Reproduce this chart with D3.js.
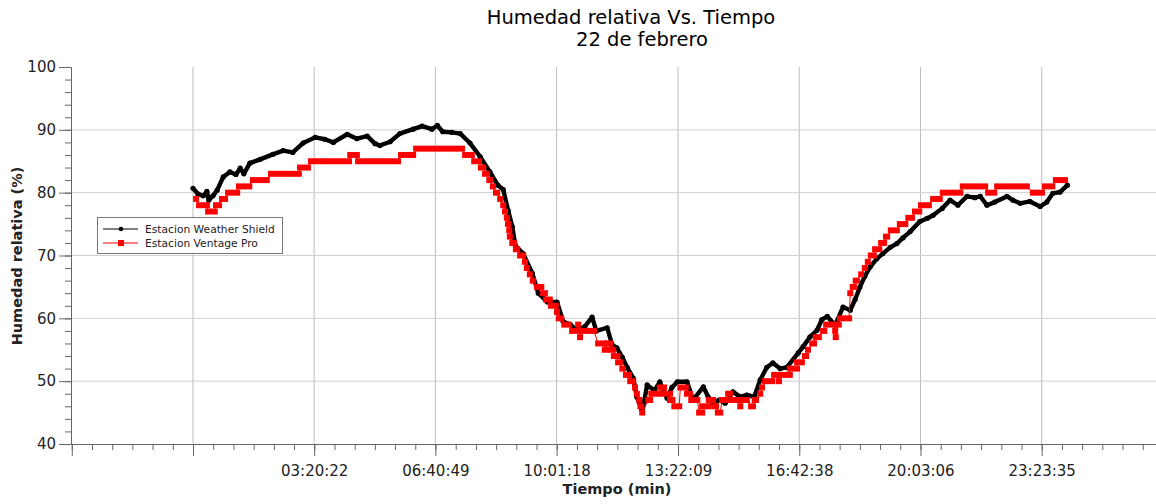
<meta charset="utf-8">
<title>Humedad relativa Vs. Tiempo</title>
<script src="https://cdn.jsdelivr.net/npm/d3@7"></script>
<style>
  body { margin: 0; background: #fff; }
  svg { display: block; font-family: "DejaVu Sans", sans-serif; }
</style>
<body>
<svg width="1156" height="504"></svg>
<script>

  // Estacion Weather Shield: minutes since 00:00 and humidity (%)
  const shieldMin = [0,8,17,23,26,33,40,50,61,71,78,84,94,111,132,149,165,182,202,218,232,255,271,288,301,309,326,342,364,379,395,404,413,428,442,458,475,491,504,513,521,528,533,546,561,571,586,602,612,624,635,648,660,667,685,693,701,710,718,728,734,743,751,763,772,784,792,801,817,827,844,852,860,870,880,893,905,916,928,938,949,959,971,982,1001,1009,1020,1032,1040,1049,1062,1075,1087,1095,1103,1111,1120,1131,1141,1153,1164,1174,1186,1202,1214,1224,1239,1252,1265,1280,1293,1302,1313,1326,1346,1356,1368,1384,1401,1412,1422,1434,1446]
  const shieldHum = [80.7,79.8,79.5,80.2,78.8,79.5,80.4,82.5,83.3,82.9,83.9,83.0,84.7,85.3,86.1,86.7,86.4,87.9,88.8,88.5,88.0,89.3,88.6,89.0,87.8,87.5,88.1,89.4,90.1,90.6,90.1,90.7,89.7,89.6,89.4,87.9,85.7,83.3,81.2,80.5,77.2,74.6,71.6,70.3,67.2,64.0,62.6,62.6,59.5,59.0,58.1,58.7,60.2,58.0,58.5,55.8,55.3,53.8,52.2,50.5,47.5,45.1,49.4,48.5,49.9,47.3,49.0,49.9,49.9,47.0,49.1,47.5,46.5,47.0,46.5,48.3,47.5,47.8,47.5,50.2,52.2,52.9,52.0,52.2,54.5,55.5,57.0,58.1,59.8,60.3,58.9,61.8,61.3,63.0,65.0,66.7,68.2,69.5,70.3,71.3,71.9,72.8,73.8,75.4,75.9,76.4,77.5,78.8,78.0,79.4,79.2,79.4,78.0,78.5,79.4,78.8,78.3,78.6,77.8,78.5,79.9,80.1,81.2]

  // Estacion Ventage Pro: runs of equal readings (start min, end min, humidity %)
  const vpStart = [5,10,25,38,48,58,76,99,129,177,195,260,273,344,369,450,465,476,483,490,496,501,508,513,516,519,521,523,524,528,534,541,549,552,557,562,569,579,584,592,602,605,614,627,637,640,643,670,681,685,691,696,703,710,716,723,731,734,738,740,743,753,758,772,781,789,796,806,817,824,837,842,853,862,868,875,885,888,905,908,923,929,938,941,946,961,969,972,987,999,1012,1017,1024,1030,1042,1047,1062,1063,1067,1070,1087,1091,1096,1105,1111,1116,1121,1128,1138,1146,1154,1169,1183,1194,1204,1224,1240,1273,1315,1330,1389,1409,1427]
  const vpEnd   = [5,23,36,43,53,73,93,122,175,190,258,271,339,364,445,461,473,480,486,491,496,503,508,513,516,519,521,523,524,531,536,546,549,552,557,562,576,582,590,600,602,609,622,633,637,640,663,680,683,690,695,702,706,711,721,728,731,734,738,741,743,756,772,779,789,793,804,815,822,834,842,852,860,865,872,882,888,901,905,916,926,931,938,941,958,968,969,987,999,1007,1014,1017,1027,1035,1044,1060,1062,1063,1068,1085,1087,1093,1098,1105,1111,1116,1126,1135,1143,1148,1164,1178,1189,1201,1217,1235,1269,1310,1325,1379,1404,1421,1442]
  const vpHum   = [79,78,77,78,79,80,81,82,83,84,85,86,85,86,87,86,85,84,83,82,81,80,79,78,77,76,75,74,73,72,71,70,69,68,67,66,65,64,63,62,61,60,59,58,59,57,58,56,55,56,55,54,53,52,51,50,49,48,47,46,45,47,48,49,48,47,46,49,48,47,45,46,47,46,45,47,48,47,46,47,46,47,48,49,50,51,50,51,52,53,54,55,56,57,58,59,58,57,59,60,64,65,66,67,68,69,70,71,72,73,74,75,76,77,78,79,80,81,80,81,80,81,82]

  const tickLabels = ["03:20:22", "06:40:49", "10:01:18", "13:22:09", "16:42:38", "20:03:06", "23:23:35"]
  const yTicks = [40, 50, 60, 70, 80, 90, 100]
  const seriesNames = ["Estacion Weather Shield", "Estacion Ventage Pro"]

  const toMin = s => { const [h, m, sec] = s.split(':').map(Number); return h * 60 + m + sec / 60 }

  const svg = d3.select('svg')

  const x = d3.scaleLinear().domain([-201.8, 1592.6]).range([71, 1156])
  const y = d3.scaleLinear().domain([40, 100]).range([444, 67])

  const labelMins = tickLabels.map(toMin)
  const step = labelMins[labelMins.length - 1] / labelMins.length
  const majorX = [-step, 0, ...labelMins]
  const minorX = d3.range(-6, 60).map(k => k * step / 6).filter(v => v >= x.domain()[0] - 0.5 && v <= x.domain()[1])

  // grid
  const grid = svg.append('g')
  grid.selectAll('line.v').data([0, ...labelMins]).join('line')
    .attr('x1', d => x(d)).attr('x2', d => x(d))
    .attr('y1', y(100)).attr('y2', y(40))
    .attr('stroke', '#bdbdbd').attr('stroke-width', 1)
  grid.selectAll('line.h').data(yTicks.filter(v => v > 40 && v < 100)).join('line')
    .attr('x1', x.range()[0]).attr('x2', x.range()[1])
    .attr('y1', d => y(d)).attr('y2', d => y(d))
    .attr('stroke', '#cfcfcf').attr('stroke-width', 1)

  // axes
  const styleAxis = g => {
    g.selectAll('path, line').attr('stroke', '#666')
    g.selectAll('text').attr('fill', '#222').attr('font-family', '"DejaVu Sans", sans-serif').attr('font-size', 15)
  }

  svg.append('g').attr('transform', 'translate(0,444)')
    .call(d3.axisBottom(x).tickValues(minorX).tickSize(6).tickFormat('').tickSizeOuter(0))
    .call(styleAxis)
  svg.append('g').attr('transform', 'translate(0,444)')
    .call(d3.axisBottom(x).tickValues(majorX).tickSize(12).tickPadding(9).tickSizeOuter(0)
      .tickFormat((d, i) => i < 2 ? '' : tickLabels[i - 2]))
    .call(styleAxis)

  svg.append('g').attr('transform', 'translate(71,0)')
    .call(d3.axisLeft(y).tickValues(d3.range(40, 101, 2)).tickSize(6).tickFormat('').tickSizeOuter(0))
    .call(styleAxis)
  svg.append('g').attr('transform', 'translate(71,0)')
    .call(d3.axisLeft(y).tickValues(yTicks).tickSize(12).tickPadding(3).tickSizeOuter(0))
    .call(styleAxis)

  // Weather Shield series
  const shield = shieldMin.map((m, i) => [m, shieldHum[i]])
  const line = d3.line().x(d => x(d[0])).y(d => y(d[1]))

  svg.append('path').datum(shield)
    .attr('fill', 'none').attr('stroke', '#000').attr('stroke-width', 4.4)
    .attr('stroke-linejoin', 'round').attr('d', line)
  svg.append('g').selectAll('circle').data(shield).join('circle')
    .attr('cx', d => x(d[0])).attr('cy', d => y(d[1])).attr('r', 2.6).attr('fill', '#000')

  // Ventage Pro series
  const vp = vpStart.map((s, i) => ({ s, e: vpEnd[i], v: vpHum[i] }))
  svg.append('path').datum(vp.flatMap(d => [[d.s, d.v], [d.e, d.v]]))
    .attr('fill', 'none').attr('stroke', '#ff0000').attr('stroke-width', 1).attr('d', line)
  svg.append('g').selectAll('rect').data(vp).join('rect')
    .attr('x', d => x(d.s) - 3).attr('width', d => x(d.e) - x(d.s) + 6)
    .attr('y', d => y(d.v) - 3).attr('height', 6)
    .attr('fill', '#ff0000')

  // titles
  svg.append('text').attr('x', 631).attr('y', 24).attr('text-anchor', 'middle')
    .attr('font-size', 19.5).attr('fill', '#000').text('Humedad relativa Vs. Tiempo')
  svg.append('text').attr('x', 642).attr('y', 46).attr('text-anchor', 'middle')
    .attr('font-size', 19.5).attr('fill', '#000').text('22 de febrero')

  svg.append('text').attr('x', 617).attr('y', 494).attr('text-anchor', 'middle')
    .attr('font-size', 14.5).attr('font-weight', 'bold').attr('fill', '#222').text('Tiempo (min)')
  svg.append('text').attr('transform', 'translate(22,256) rotate(-90)').attr('text-anchor', 'middle')
    .attr('font-size', 14.5).attr('font-weight', 'bold').attr('fill', '#222').text('Humedad relativa (%)')

  // legend
  const legend = svg.append('g').attr('transform', 'translate(97,217)')
  legend.append('rect').attr('x', 0.5).attr('y', 0.5).attr('width', 185).attr('height', 36)
    .attr('fill', '#fff').attr('stroke', '#777')
  const rows = legend.selectAll('g').data(seriesNames).join('g')
    .attr('transform', (d, i) => `translate(0,${12 + i * 14})`)
  rows.append('line').attr('x1', 6).attr('x2', 41)
    .attr('stroke', (d, i) => i ? '#ff0000' : '#000').attr('stroke-width', 1)
  rows.filter((d, i) => i === 0).append('circle').attr('cx', 24).attr('r', 2.3).attr('fill', '#000')
  rows.filter((d, i) => i === 1).append('rect').attr('x', 21).attr('y', -3).attr('width', 6).attr('height', 6).attr('fill', '#ff0000')
  rows.append('text').attr('x', 48).attr('y', 4).attr('font-size', 10.7).attr('fill', '#222').text(d => d)

</script>
</body>
